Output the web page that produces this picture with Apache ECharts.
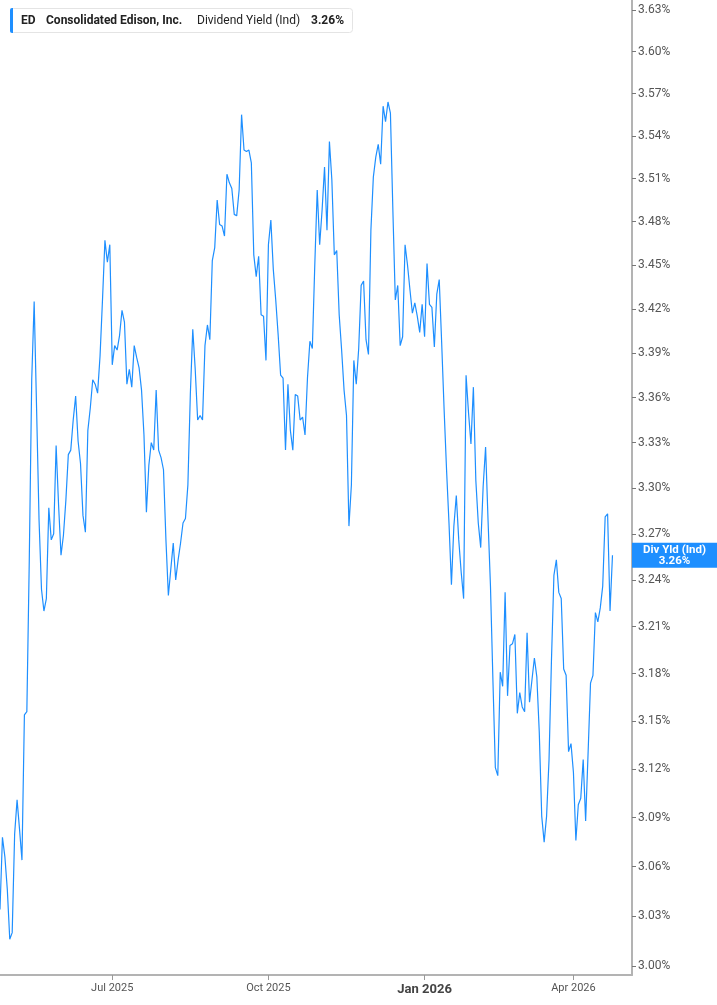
<!DOCTYPE html>
<html><head><meta charset="utf-8">
<script src="https://cdn.jsdelivr.net/npm/echarts@6/dist/echarts.min.js"></script>
<style>html,body{margin:0;padding:0;background:#fff}#c{width:717px;height:1005px}</style>
</head><body><div id="c"></div>
<script>
// Dividend yield (%) per trading day, 2025-04-24 .. 2026-04-24
const yieldValues = [
3.034,3.078,3.066,3.046,3.016,3.020,3.080,3.101,3.083,3.064,
3.154,3.156,3.253,3.372,3.425,3.352,3.279,3.234,3.220,3.228,
3.287,3.266,3.270,3.328,3.289,3.256,3.269,3.292,3.322,3.325,
3.345,3.361,3.331,3.316,3.282,3.271,3.338,3.353,3.372,3.369,
3.363,3.388,3.426,3.467,3.452,3.464,3.382,3.395,3.392,3.402,
3.419,3.411,3.369,3.379,3.367,3.395,3.387,3.380,3.365,3.335,
3.284,3.315,3.330,3.325,3.365,3.325,3.320,3.312,3.266,3.230,
3.247,3.264,3.240,3.253,3.264,3.277,3.280,3.302,3.362,3.406,
3.379,3.345,3.348,3.345,3.395,3.409,3.399,3.453,3.462,3.495,
3.478,3.477,3.470,3.513,3.507,3.503,3.485,3.484,3.502,3.555,
3.530,3.529,3.530,3.521,3.457,3.442,3.456,3.416,3.415,3.385,
3.464,3.481,3.447,3.426,3.402,3.375,3.373,3.325,3.369,3.338,
3.325,3.362,3.361,3.345,3.347,3.335,3.373,3.398,3.393,3.450,
3.502,3.464,3.488,3.518,3.474,3.536,3.509,3.457,3.460,3.416,
3.392,3.365,3.348,3.275,3.302,3.385,3.369,3.393,3.436,3.439,
3.399,3.389,3.474,3.511,3.525,3.534,3.520,3.561,3.550,3.564,
3.556,3.488,3.426,3.436,3.395,3.401,3.464,3.450,3.433,3.417,
3.424,3.415,3.404,3.423,3.401,3.451,3.423,3.421,3.394,3.430,
3.440,3.397,3.352,3.312,3.277,3.237,3.275,3.295,3.266,3.245,
3.228,3.375,3.350,3.329,3.367,3.305,3.277,3.261,3.301,3.327,
3.279,3.236,3.176,3.121,3.116,3.181,3.172,3.232,3.166,3.198,
3.199,3.205,3.155,3.168,3.159,3.156,3.206,3.162,3.176,3.190,
3.178,3.143,3.091,3.075,3.091,3.126,3.189,3.243,3.253,3.232,
3.228,3.183,3.179,3.131,3.136,3.118,3.076,3.098,3.102,3.126,
3.088,3.130,3.174,3.179,3.219,3.213,3.222,3.236,3.281,3.283,
3.220,3.256
];
const startDate = '2025-04-24';
const marketHolidays = ['2025-05-26','2025-06-19','2025-07-04','2025-09-01','2025-11-27','2025-12-25','2026-01-01','2026-01-19','2026-02-16','2026-04-03'];
const padDays = 8;
const xTickLabels = {'2025-07-01':'Jul 2025','2025-10-01':'Oct 2025','2026-01-02':'Jan 2026','2026-04-01':'Apr 2026'};
const boldTick = '2026-01-02';
const yTicks = [3.00,3.03,3.06,3.09,3.12,3.15,3.18,3.21,3.24,3.27,3.30,3.33,3.36,3.39,3.42,3.45,3.48,3.51,3.54,3.57,3.60,3.63];
const yMin = 2.9946, yMax = 3.6372;
const ticker = 'ED', company = 'Consolidated Edison, Inc.', metric = 'Dividend Yield (Ind)', endName = 'Div Yld (Ind)';

// trading-day categories
const dates = [];
{
  const d = new Date(startDate + 'T00:00:00Z');
  while (dates.length < yieldValues.length + padDays) {
    const s = d.toISOString().slice(0, 10);
    const wd = d.getUTCDay();
    if (wd !== 0 && wd !== 6 && marketHolidays.indexOf(s) < 0) dates.push(s);
    d.setUTCDate(d.getUTCDate() + 1);
  }
}
const lastVal = yieldValues[yieldValues.length - 1];
const FONT = 'Roboto';
const BLUE = '#1e8fff';

const chart = echarts.init(document.getElementById('c'), null, {renderer: 'canvas'});
const isTick = (idx, val) => xTickLabels[val] !== undefined;
chart.setOption({
  animation: false,
  backgroundColor: '#fff',
  grid: {left: 0, right: 85, top: 0, bottom: 30, containLabel: false},
  xAxis: {
    type: 'category', data: dates, boundaryGap: false,
    axisLine: {show: true, lineStyle: {color: '#b3b3b3', width: 2}},
    axisTick: {show: true, interval: isTick, length: 5, lineStyle: {color: '#999', width: 1}},
    axisLabel: {
      interval: isTick, margin: 8, color: '#555', fontSize: 11, fontFamily: FONT,
      formatter: v => v === boldTick ? '{b|' + xTickLabels[v] + '}' : (xTickLabels[v] || ''),
      rich: {b: {fontWeight: 'bold', fontSize: 13, color: '#444', fontFamily: FONT}}
    },
    splitLine: {show: false}
  },
  yAxis: {
    type: 'log', logBase: 10, min: yMin, max: yMax, position: 'right',
    axisLine: {show: true, lineStyle: {color: '#b3b3b3', width: 2}},
    axisTick: {show: true, customValues: yTicks, length: 4, lineStyle: {color: '#777', width: 1}},
    axisLabel: {customValues: yTicks, formatter: v => v.toFixed(2) + '%', color: '#555', fontSize: 12, fontFamily: FONT, margin: 6, padding: [3, 0, 0, 0]},
    splitLine: {show: false}, minorTick: {show: false}
  },
  series: [{
    name: endName, type: 'line', data: yieldValues, showSymbol: false, smooth: false,
    lineStyle: {color: BLUE, width: 1.2}, itemStyle: {color: BLUE}
  }]
});

const p = chart.convertToPixel({gridIndex: 0}, [yieldValues.length - 1, lastVal]);
chart.setOption({
  graphic: [
    {type: 'rect', shape: {x: 10.5, y: 8.5, width: 342, height: 24, r: 3}, style: {fill: '#fff', stroke: '#e4e4e4', lineWidth: 1}, z: 100},
    {type: 'rect', shape: {x: 10, y: 8, width: 3, height: 25, r: [2, 0, 0, 2]}, style: {fill: BLUE}, z: 101},
    {type: 'text', x: 21, y: 21, style: {text: ticker, font: 'bold 12px ' + FONT, fill: '#222', verticalAlign: 'middle'}, z: 101},
    {type: 'text', x: 46, y: 21, style: {text: company, font: 'bold 12px ' + FONT, fill: '#222', verticalAlign: 'middle'}, z: 101},
    {type: 'text', x: 197, y: 21, style: {text: metric, font: '12px ' + FONT, fill: '#222', verticalAlign: 'middle'}, z: 101},
    {type: 'text', x: 311, y: 21, style: {text: lastVal.toFixed(2) + '%', font: 'bold 12px ' + FONT, fill: '#222', verticalAlign: 'middle'}, z: 101},
    {type: 'rect', shape: {x: 632, y: p[1] - 12.5, width: 85, height: 25}, style: {fill: BLUE}, z: 100},
    {type: 'text', x: 674.5, y: p[1] - 5.5, style: {text: endName, font: 'bold 11.5px ' + FONT, fill: '#fff', align: 'center', verticalAlign: 'middle'}, z: 101},
    {type: 'text', x: 674.5, y: p[1] + 5.5, style: {text: lastVal.toFixed(2) + '%', font: 'bold 11.5px ' + FONT, fill: '#fff', align: 'center', verticalAlign: 'middle'}, z: 101}
  ]
});
</script></body></html>
